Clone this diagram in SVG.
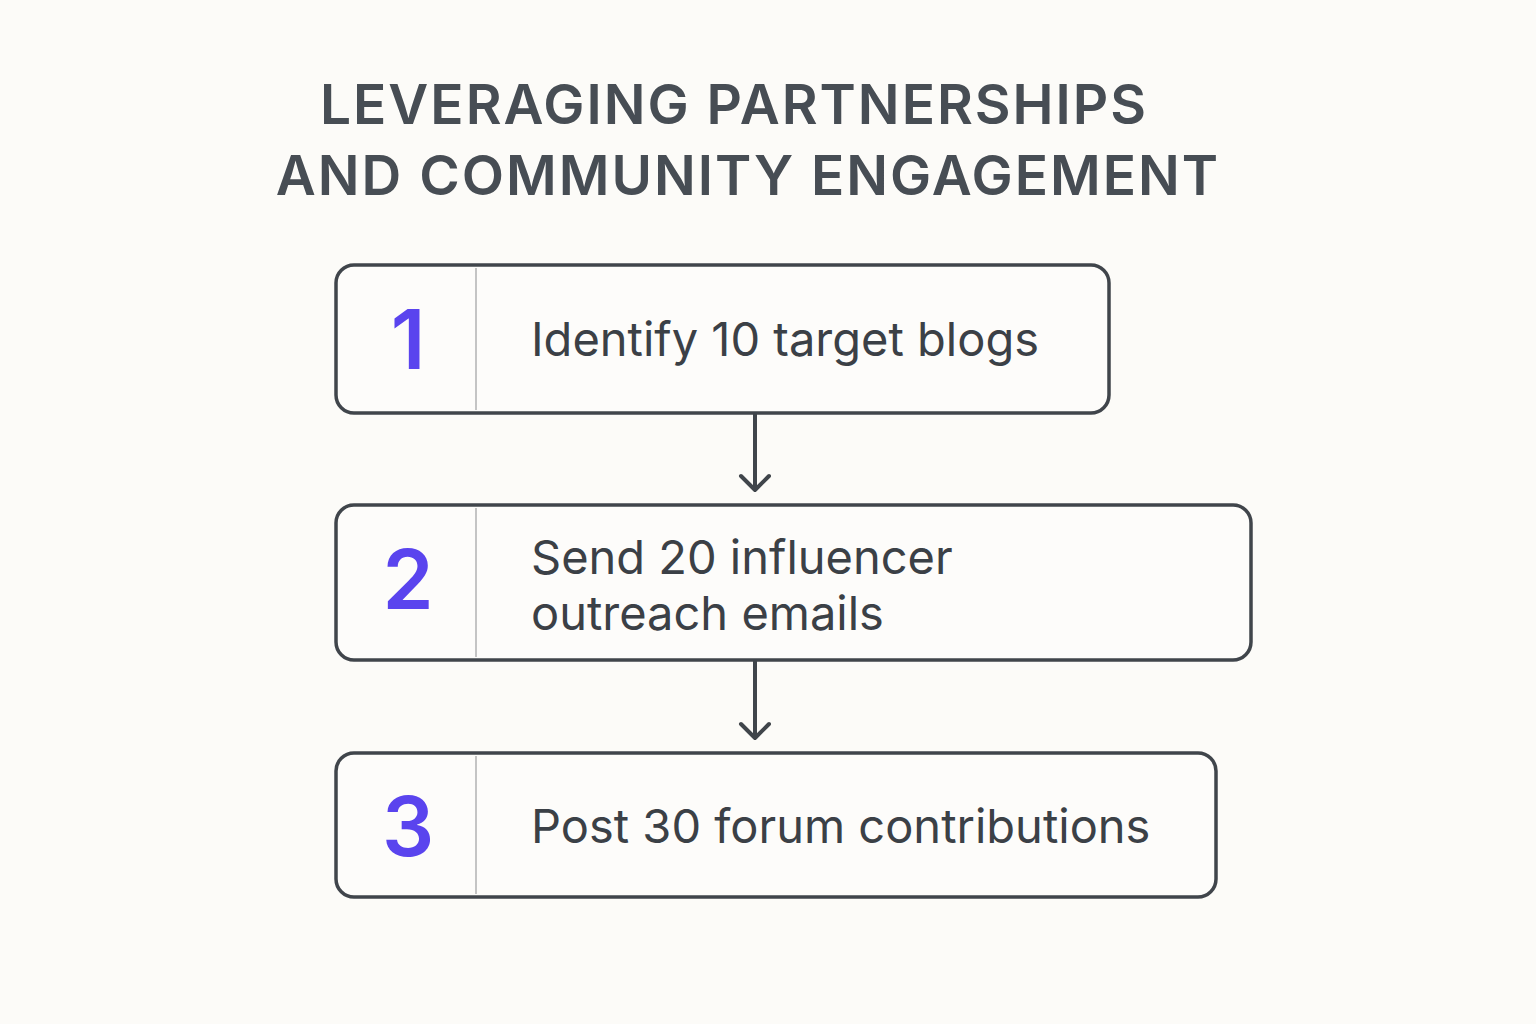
<svg xmlns="http://www.w3.org/2000/svg" width="1536" height="1024" viewBox="0 0 1536 1024">
<style>
.title{font-family:Inter,"Noto Sans",sans-serif;font-weight:600;font-size:55px;fill:#474d54;letter-spacing:2px;text-anchor:middle}
.box{fill:#fdfcfa;stroke:#40454b;stroke-width:3.5}
.div{stroke:#c4c4c4;stroke-width:2}
.num{font-family:Inter,"Noto Sans",sans-serif;font-weight:600;font-size:82px;fill:#5a44ee;text-anchor:middle}
.lbl{font-family:Inter,"Noto Sans",sans-serif;font-weight:400;font-size:47px;fill:#3b4046}
.conn{stroke:#40454b;stroke-width:4;fill:none;stroke-linecap:round;stroke-linejoin:round}
</style>
<rect width="1536" height="1024" fill="#fcfbf8"/>
<text class="title" x="734" y="124">LEVERAGING PARTNERSHIPS</text>
<text class="title" x="748" y="195">AND COMMUNITY ENGAGEMENT</text>
<g id="connectors">
<path class="conn" d="M755 414V490M741 476L755 490L769 476"/>
<path class="conn" d="M755 661V738M741 724L755 738L769 724"/>
</g>
<g id="step1">
<rect class="box" x="336" y="265" width="773" height="148" rx="18"/>
<line class="div" x1="476" y1="268" x2="476" y2="410"/>
<text class="num" x="408" y="369">1</text>
<text class="lbl" x="531" y="356">Identify 10 target blogs</text>
</g>
<g id="step2">
<rect class="box" x="336" y="505" width="915" height="155" rx="18"/>
<line class="div" x1="476" y1="508" x2="476" y2="657"/>
<text class="num" x="408" y="609">2</text>
<text class="lbl" x="531" y="574">Send 20 influencer</text>
<text class="lbl" x="531" y="630">outreach emails</text>
</g>
<g id="step3">
<rect class="box" x="336" y="753" width="880" height="144" rx="18"/>
<line class="div" x1="476" y1="756" x2="476" y2="894"/>
<text class="num" x="408" y="856">3</text>
<text class="lbl" x="531" y="843">Post 30 forum contributions</text>
</g>
</svg>
